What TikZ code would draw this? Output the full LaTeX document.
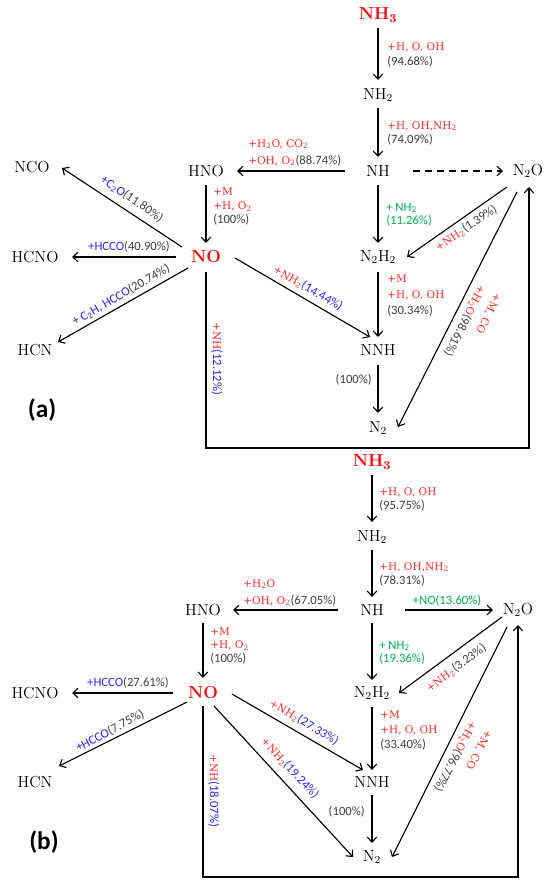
\documentclass[tikz,border=0pt]{standalone}
\usepackage{fontspec}
\newfontfamily\carl{Carlito}
\newfontfamily\tser{DejaVu Serif}
\usetikzlibrary{arrows.meta,calc}
\definecolor{spred}{RGB}{255,0,0}
\definecolor{labred}{RGB}{255,40,40}
\definecolor{labblue}{RGB}{40,40,255}
\definecolor{labgreen}{RGB}{0,176,80}
\definecolor{labgray}{RGB}{64,64,64}
\newcommand\tred[1]{{\tser\fontsize{7.9}{10}\selectfont\color{labred}#1}}
\newcommand\tblu[1]{{\color{labblue}#1}}
\tikzset{
  sp/.style={inner sep=1pt, font=\fontsize{12}{14}\selectfont, text=black},
  spb/.style={inner sep=1pt, font=\fontsize{13}{15}\selectfont\bfseries, text=spred},
  lab/.style={inner sep=0pt, align=left, text=labgray, font=\carl\fontsize{9.5}{#1}\selectfont},
  lab/.default=11,
  grn/.style={lab=#1, text=labgreen},
  grn/.default=10,
  arr/.style={line width=0.85pt, -{Straight Barb[length=3.8pt,width=7pt]}},
  panel/.style={inner sep=0pt, font=\carl\fontsize{19}{22}\selectfont\bfseries}
}
\begin{document}
\begin{tikzpicture}[x=0.75pt,y=-0.75pt]
\useasboundingbox (0,0) rectangle (550,885);
% ================= panel (a) =================
\node[spb] (aNH3) at (378,15) {NH\textsubscript{3}};
\node[sp] (aNH2) at (378,95) {NH\textsubscript{2}};
\node[sp] (aNH) at (378,171) {NH};
\node[sp] (aHNO) at (206,171) {HNO};
\node[sp] (aN2O) at (528,171) {N\textsubscript{2}O};
\node[sp] (aN2H2) at (378,257) {N\textsubscript{2}H\textsubscript{2}};
\node[spb] (aNO) at (206,257) {NO};
\node[sp] (aNCO) at (32,167) {NCO};
\node[sp] (aHCNO) at (35,257) {HCNO};
\node[sp] (aHCN) at (35,350) {HCN};
\node[sp] (aNNH) at (378,350) {NNH};
\node[sp] (aN2) at (378,428) {N\textsubscript{2}};
\coordinate (aBox) at (529,448);

\draw[arr] ($(aNH3)+(0,13)$) -- ($(aNH2)+(0,-15)$);
\draw[arr] ($(aNH2)+(0,13)$) -- ($(aNH)+(0,-14)$);
\draw[arr] ($(aNH)+(-33,0)$) -- ($(aHNO)+(31,0)$);
\draw[arr, dash pattern=on 5pt off 4pt] ($(aNH)+(35,0)$) -- ($(aN2O)+(-25,0)$);
\draw[arr] ($(aNH)+(0,14)$) -- ($(aN2H2)+(0,-14)$);
\draw[arr] ($(aHNO)+(0,14)$) -- ($(aNO)+(0,-14)$);
\draw[arr] ($(aN2O)+(-21,16)$) -- ($(aN2H2)+(29,0)$);
\draw[arr] ($(aN2O)+(-11,21)$) -- ($(aN2)+(20,-1)$);
\draw[arr] ($(aN2H2)+(0,15)$) -- ($(aNNH)+(0,-13)$);
\draw[arr] ($(aNO)+(29,1)$) -- ($(aNNH)+(-8,-13)$);
\draw[arr] ($(aNNH)+(0,15)$) -- ($(aN2)+(0,-15)$);
\draw[arr] ($(aNO)+(-24,-10)$) -- ($(aNCO)+(30,1)$);
\draw[arr] ($(aNO)+(-30,0)$) -- ($(aHCNO)+(37,0)$);
\draw[arr] ($(aNO)+(-18,11)$) -- ($(aHCN)+(23,-8)$);
\draw[arr] ($(aNO)+(0,15)$) |- (aBox) -- ($(aN2O)+(1,16)$);

\node[lab=11.25, anchor=west] (aL1) at (387,54.5) {\tred{+H, O, OH}\\(94.68\%)};
\node[lab=10.5, anchor=west] (aL2) at (387,133) {\tred{+H, OH,NH\textsubscript{2}}\\(74.09\%)};
\node[lab=12.75, anchor=west] (aL3) at (248,152.5) {\tred{+H\textsubscript{2}O, CO\textsubscript{2}}\\\tred{+OH, O\textsubscript{2}}(88.74\%)};
\node[lab=10.5, anchor=west] (aL4) at (213,207) {\tred{+M}\\\tred{+H, O\textsubscript{2}}\\(100\%)};
\node[grn=10, anchor=west] (aL5) at (386,214.5) {+ NH\textsubscript{2}\\(11.26\%)};
\node[lab=12, anchor=west] (aL6) at (387,296) {\tred{+M}\\\tred{+H, O, OH}\\(30.34\%)};
\node[lab, anchor=east] (aL7) at (372,380) {(100\%)};
\node[lab, rotate=34] (aL8) at (466,228) {\tred{+NH\textsubscript{2}}(1.39\%)};
\node[lab, rotate=-30] (aL9) at (308,288) {\tred{+NH\textsubscript{2}}\tblu{(14.44\%)}};
\node[lab=13.5, anchor=west, rotate=-117] (aL10) at (490,290) {\tred{+M, CO}\\\tred{+H\textsubscript{2}O}(98.61\%)};
\node[lab, anchor=west, rotate=-90] (aL11) at (217,322) {\tred{+NH}\tblu{(12.12\%)}};
\node[lab, rotate=-34] (aL12) at (132,199) {\tblu{+C\textsubscript{2}O}(11.80\%)};
\node[lab] (aL13) at (129,247) {\tblu{+HCCO}(40.90\%)};
\node[lab, rotate=30] (aL14) at (121,295) {\tblu{+ C\textsubscript{2}H, HCCO}(20.74\%)};
\node[panel] (aPanel) at (42,410) {(a)};

% ================= panel (b) =================
\node[spb] (bNH3) at (372,462) {NH\textsubscript{3}};
\node[sp] (bNH2) at (372,537) {NH\textsubscript{2}};
\node[sp] (bNH) at (372,610) {NH};
\node[sp] (bHNO) at (203,610) {HNO};
\node[sp] (bN2O) at (518,610) {N\textsubscript{2}O};
\node[sp] (bN2H2) at (372,693) {N\textsubscript{2}H\textsubscript{2}};
\node[spb] (bNO) at (203,693) {NO};
\node[sp] (bHCNO) at (35,693) {HCNO};
\node[sp] (bHCN) at (35,782) {HCN};
\node[sp] (bNNH) at (372,782) {NNH};
\node[sp] (bN2) at (372,857) {N\textsubscript{2}};
\coordinate (bBox) at (518,877);

\draw[arr] ($(bNH3)+(0,13)$) -- ($(bNH2)+(0,-15)$);
\draw[arr] ($(bNH2)+(0,13)$) -- ($(bNH)+(0,-13)$);
\draw[arr] ($(bNH)+(-34,0)$) -- ($(bHNO)+(30,0)$);
\draw[arr] ($(bNH)+(33,0)$) -- ($(bN2O)+(-25,0)$);
\draw[arr] ($(bNH)+(0,13)$) -- ($(bN2H2)+(0,-13)$);
\draw[arr] ($(bHNO)+(0,13)$) -- ($(bNO)+(0,-15)$);
\draw[arr] ($(bN2O)+(-16,7)$) -- ($(bN2H2)+(27,0)$);
\draw[arr] ($(bN2O)+(-11,17)$) -- ($(bN2)+(20,0)$);
\draw[arr] ($(bN2H2)+(0,14)$) -- ($(bNNH)+(0,-12)$);
\draw[arr] ($(bNO)+(29,1)$) -- ($(bNNH)+(-9,-12)$);
\draw[arr] ($(bNO)+(11,13)$) -- ($(bN2)+(-19,0)$);
\draw[arr] ($(bNNH)+(0,13)$) -- ($(bN2)+(0,-14)$);
\draw[arr] ($(bNO)+(-30,0)$) -- ($(bHCNO)+(37,0)$);
\draw[arr] ($(bNO)+(-16,9)$) -- ($(bHCN)+(24,-16)$);
\draw[arr] ($(bNO)+(0,13)$) |- (bBox) -- ($(bN2O)+(0,15)$);

\node[lab=10, anchor=west] (bL1) at (379,499.5) {\tred{+H, O, OH}\\(95.75\%)};
\node[lab=10.5, anchor=west] (bL2) at (379,574) {\tred{+H, OH,NH\textsubscript{2}}\\(78.31\%)};
\node[lab=12.75, anchor=west] (bL3) at (243,592.5) {\tred{+H\textsubscript{2}O}\\\tred{+OH, O\textsubscript{2}}(67.05\%)};
\node[lab=10, anchor=west] (bL4) at (210,646) {\tred{+M}\\\tred{+H, O\textsubscript{2}}\\(100\%)};
\node[grn] (bL5) at (447,601) {+NO(13.60\%)};
\node[grn=10, anchor=west] (bL6) at (379,652.5) {+ NH\textsubscript{2}\\(19.36\%)};
\node[lab, rotate=37] (bL7) at (456,668) {\tred{+NH\textsubscript{2}}(3.23\%)};
\node[lab=11.6, anchor=west] (bL8) at (380,730.5) {\tred{+M}\\\tred{+H, O, OH}\\(33.40\%)};
\node[lab, anchor=east] (bL9) at (365,812) {(100\%)};
\node[lab, rotate=-31] (bL10) at (304,722) {\tred{+NH\textsubscript{2}}\tblu{(27.33\%)}};
\node[lab, rotate=-47] (bL11) at (290,768) {\tred{+NH\textsubscript{2}}\tblu{(19.24\%)}};
\node[lab=13.4, anchor=west, rotate=-118] (bL12) at (481,726) {\tred{+M, CO}\\\tred{+H\textsubscript{2}O}(96.77\%)};
\node[lab, anchor=west, rotate=-90] (bL13) at (214,754) {\tred{+NH}\tblu{(18.07\%)}};
\node[lab] (bL14) at (128,683) {\tblu{+HCCO}(27.61\%)};
\node[lab, rotate=28] (bL15) at (110,731) {\tblu{+HCCO}(7.75\%)};
\node[panel] (bPanel) at (44,842) {(b)};
\end{tikzpicture}
\end{document}
